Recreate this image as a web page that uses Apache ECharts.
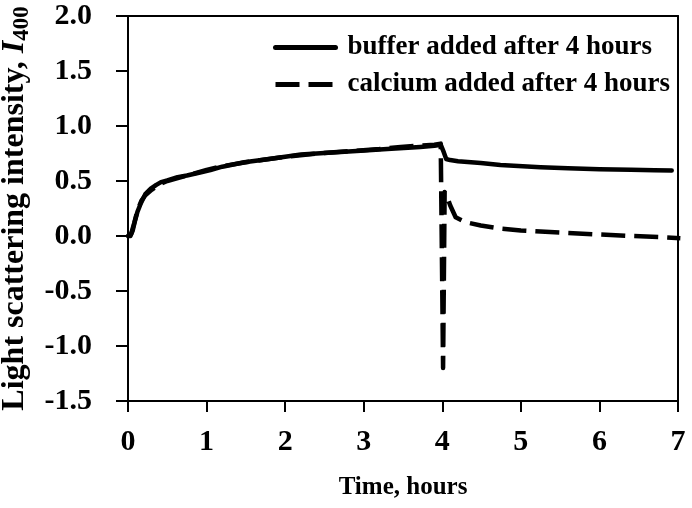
<!DOCTYPE html>
<html>
<head>
<meta charset="utf-8">
<script src="https://cdn.jsdelivr.net/npm/echarts@6/dist/echarts.min.js"></script>
<style>
html,body{margin:0;padding:0;background:#fff;}
#main{width:692px;height:508px;}
</style>
</head>
<body>
<div id="main"></div>
<script>
// ---- data ----
var bufferTime = [0, 0.03, 0.06, 0.09, 0.12, 0.165, 0.22, 0.29, 0.36, 0.42, 0.5, 0.63, 0.75, 0.93, 1.05, 1.2, 1.48, 1.7, 2.0, 2.2, 2.5, 2.96, 3.3, 3.72, 3.9, 3.98, 4.0, 4.02, 4.05, 4.1, 4.2, 4.49, 4.74, 5.25, 5.6, 6.0, 6.4, 6.7, 6.92];
var bufferVal  = [0.0, 0.0, 0.05, 0.14, 0.22, 0.30, 0.38, 0.43, 0.465, 0.49, 0.505, 0.535, 0.55, 0.58, 0.60, 0.63, 0.67, 0.69, 0.72, 0.74, 0.755, 0.775, 0.79, 0.81, 0.82, 0.83, 0.83, 0.76, 0.70, 0.69, 0.68, 0.663, 0.645, 0.626, 0.615, 0.607, 0.602, 0.598, 0.596];

var calciumTime = [0, 0.04, 0.08, 0.12, 0.17, 0.22, 0.3, 0.4, 0.5, 0.6, 0.8, 1.0, 1.2, 1.5, 1.8, 2.0, 2.4, 2.8, 3.2, 3.47, 3.7, 3.9, 3.98, 4.0, 4.01, 4.03, 4.05, 4.1, 4.17, 4.3, 4.49, 4.74, 5.0, 5.25, 5.6, 6.01, 6.4, 6.8, 7.03];
var calciumVal  = [0.0, 0.02, 0.12, 0.23, 0.32, 0.37, 0.42, 0.47, 0.50, 0.52, 0.56, 0.60, 0.635, 0.67, 0.70, 0.72, 0.75, 0.77, 0.79, 0.81, 0.82, 0.83, 0.84, 0.84, -1.2, 0.40, 0.38, 0.28, 0.17, 0.125, 0.095, 0.067, 0.05, 0.04, 0.028, 0.013, 0.0, -0.01, -0.02];

var seriesNames = ['buffer added after 4 hours', 'calcium added after 4 hours'];
var xTicks = [0, 1, 2, 3, 4, 5, 6, 7];
var yTicks = [-1.5, -1.0, -0.5, 0.0, 0.5, 1.0, 1.5, 2.0];

function pairs(t, v) { return t.map(function (x, i) { return [x, v[i]]; }); }

var FONT = '"Liberation Serif", "Times New Roman", serif';
var xMin = xTicks[0], xMax = xTicks[xTicks.length - 1];
var yMin = yTicks[0], yMax = yTicks[yTicks.length - 1];
function boxLine() { return {show: true, onZero: false, lineStyle: {color: '#000', width: 2}}; }

var chart = echarts.init(document.getElementById('main'), null, {renderer: 'canvas'});
chart.setOption({
  animation: false,
  grid: {left: 128, right: 14, top: 16, bottom: 107, containLabel: false, outerBoundsMode: 'none'},
  legend: {
    orient: 'vertical', left: 273, top: 34, itemWidth: 60, itemHeight: 14, itemGap: 10,
    padding: 0,
    itemStyle: {opacity: 0},
    lineStyle: {width: 5},
    textStyle: {fontFamily: FONT, fontWeight: 'bold', fontSize: 27, color: '#000', padding: [0, 0, 0, 7]},
    data: seriesNames
  },
  xAxis: [{
    type: 'value', position: 'bottom', min: xMin, max: xMax, interval: 1,
    name: 'Time, hours', nameLocation: 'middle', nameGap: 74,
    nameTextStyle: {fontFamily: FONT, fontWeight: 'bold', fontSize: 25, color: '#000'},
    axisLine: boxLine(),
    axisTick: {show: true, length: 11, lineStyle: {color: '#000', width: 2}},
    axisLabel: {fontFamily: FONT, fontWeight: 'bold', fontSize: 30, color: '#000', margin: 26},
    splitLine: {show: false}
  }, {
    type: 'value', position: 'top', min: xMin, max: xMax, interval: 1,
    axisLine: boxLine(), axisTick: {show: false}, axisLabel: {show: false}, splitLine: {show: false}
  }, {
    // tick-only companion of the bottom axis
    type: 'value', position: 'bottom', min: xMin, max: xMax, interval: 1,
    axisLine: {show: true, onZero: false, lineStyle: {color: '#000', width: 2}},
    axisTick: {show: true, length: 11, lineStyle: {color: '#000', width: 2}},
    axisLabel: {color: 'rgba(0,0,0,0)'},
    splitLine: {show: false}
  }],
  yAxis: [{
    type: 'value', position: 'left', min: yMin, max: yMax, interval: 0.5,
    name: '{a|Light scattering intensity, }{i|I}{s|400}', nameLocation: 'middle', nameGap: 94, nameRotate: 90,
    nameTextStyle: {
      fontFamily: FONT, fontWeight: 'bold', fontSize: 32, color: '#000',
      rich: {
        a: {fontFamily: FONT, fontWeight: 'bold', fontSize: 32, color: '#000'},
        i: {fontFamily: FONT, fontWeight: 'bold', fontStyle: 'italic', fontSize: 32, color: '#000'},
        s: {fontFamily: FONT, fontWeight: 'bold', fontSize: 23, color: '#000', padding: [15, 0, 0, 0]}
      }
    },
    axisLine: boxLine(),
    axisTick: {show: true, length: 12, lineStyle: {color: '#000', width: 2}},
    axisLabel: {fontFamily: FONT, fontWeight: 'bold', fontSize: 30, color: '#000', margin: 36,
      formatter: function (v) { return v.toFixed(1); }},
    splitLine: {show: false}
  }, {
    type: 'value', position: 'right', min: yMin, max: yMax, interval: 0.5,
    axisLine: boxLine(), axisTick: {show: false}, axisLabel: {show: false}, splitLine: {show: false}
  }, {
    // tick-only companion of the left axis
    type: 'value', position: 'left', min: yMin, max: yMax, interval: 0.5,
    axisLine: {show: true, onZero: false, lineStyle: {color: '#000', width: 2}},
    axisTick: {show: true, length: 12, lineStyle: {color: '#000', width: 2}},
    axisLabel: {color: 'rgba(0,0,0,0)'},
    splitLine: {show: false}
  }],
  series: [
    {
      name: seriesNames[0], type: 'line', data: pairs(bufferTime, bufferVal),
      xAxisIndex: 0, yAxisIndex: 0,
      symbol: 'none', smooth: false, z: 3,
      lineStyle: {color: '#000', width: 4.5, type: 'solid', cap: 'round', join: 'round'},
      itemStyle: {color: '#000'}
    },
    {
      name: seriesNames[1], type: 'line', data: pairs(calciumTime, calciumVal),
      xAxisIndex: 0, yAxisIndex: 0,
      symbol: 'none', smooth: false, z: 4,
      lineStyle: {color: '#000', width: 4.5, type: [24, 9], cap: 'butt', join: 'round'},
      itemStyle: {color: '#000'}
    }
  ]
});
</script>
</body>
</html>
